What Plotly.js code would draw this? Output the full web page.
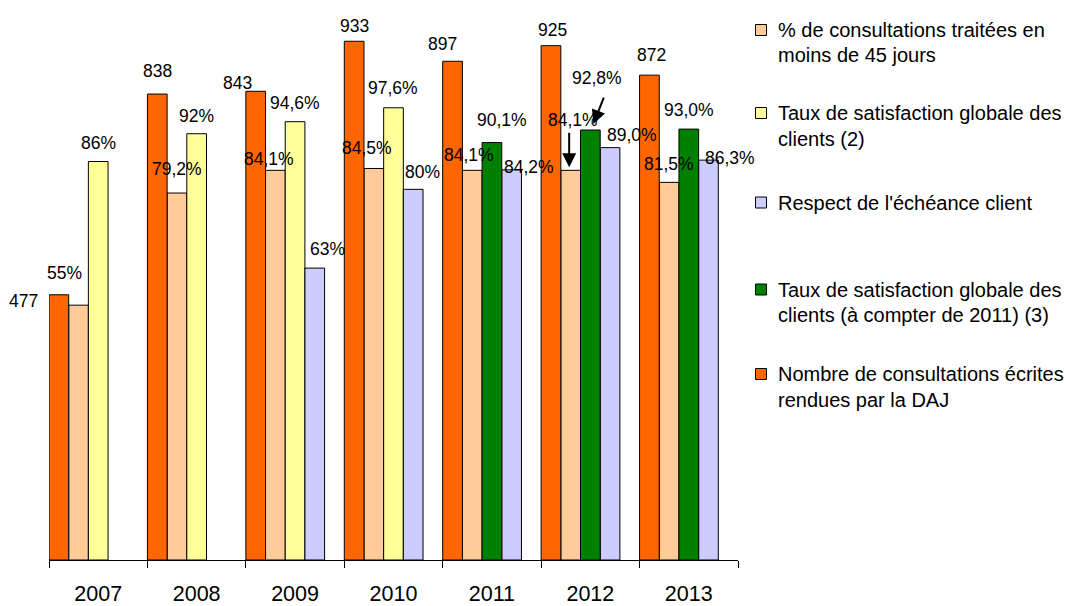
<!DOCTYPE html>
<html>
<head>
<meta charset="utf-8">
<script src="https://cdn.plot.ly/plotly-3.0.1.min.js"></script>
<style>
  html, body { margin: 0; padding: 0; background: #ffffff; }
  #chart { width: 1067px; height: 606px; }
</style>
</head>
<body>
<div id="chart"></div>
<script>
// Years on the category axis
const years = ['2007', '2008', '2009', '2010', '2011', '2012', '2013'];

// Nombre de consultations écrites rendues (right-hand scale, counts)
const nombre = [477, 838, 843, 933, 897, 925, 872];
// % de consultations traitées en moins de 45 jours
const pct45 = [55, 79.2, 84.1, 84.5, 84.1, 84.1, 81.5];
const pct45Dec = [0, 1, 1, 1, 1, 1, 1];
// Taux de satisfaction globale des clients (2)
const satisf2 = [86, 92, 94.6, 97.6, null, null, null];
const satisf2Dec = [0, 0, 1, 1, 0, 0, 0];
// Respect de l'échéance client
const echeance = [null, null, 63, 80, 84.2, 89.0, 86.3];
const echeanceDec = [0, 0, 0, 0, 1, 1, 1];
// Taux de satisfaction globale des clients (à compter de 2011) (3)
const satisf3 = [null, null, null, null, 90.1, 92.8, 93.0];
const satisf3Dec = [0, 0, 0, 0, 1, 1, 1];

const FONT = 'Liberation Sans, Arial, sans-serif';
const BAR_W = 0.2;

// Series description: slot within the year group, axis, colours, legend text
const series = [
  { key: 'pct45', y: pct45, dec: pct45Dec, pct: true, slot: 1, axis: 'y', color: '#FFCC99',
    name: '% de consultations traitées en\nmoins de 45 jours' },
  { key: 'satisf2', y: satisf2, dec: satisf2Dec, pct: true, slot: 2, axis: 'y', color: '#FFFF99',
    name: 'Taux de satisfaction globale des\nclients (2)' },
  { key: 'echeance', y: echeance, dec: echeanceDec, pct: true, slot: 3, axis: 'y', color: '#CCCCFF',
    name: "Respect de l'échéance client" },
  { key: 'satisf3', y: satisf3, dec: satisf3Dec, pct: true, slot: 2, axis: 'y', color: '#008000',
    name: 'Taux de satisfaction globale des\nclients (à compter de 2011) (3)' },
  { key: 'nombre', y: nombre, dec: null, pct: false, slot: 0, axis: 'y2', color: '#FF6600',
    name: 'Nombre de consultations écrites\nrendues par la DAJ' }
];

// Label placement tweaks (pixels): [dx, up] relative to the bar top centre
const labelShift = {
  nombre:   [[-35, -6], [0, 23], [-18, 8], [0, 15], [-10, 17], [2, 16], [2, 20]],
  pct45:    [[-14, 32], [0, 24], [-6, 11], [-7, 20], [-3, 15], [2, 50], [0, 18]],
  satisf2:  [[0, 19], [0, 18], [0, 19], [-1, 20]],
  echeance: [null, null, [13, 19], [9, 17], [17, 3], [22, 13], [22, 2]],
  satisf3:  [null, null, null, null, [10, 23], [7, 52], [0, 19]]
};

function fmt(v, d) {
  return v.toFixed(d).replace('.', ',');
}

const traces = series.map(s => ({
  type: 'bar',
  x: years,
  y: s.y,
  yaxis: s.axis,
  name: s.name.replace('\n', ' '),
  width: BAR_W,
  offset: -0.5 + s.slot * BAR_W,
  marker: { color: s.color, line: { color: '#000000', width: 1 } },
  showlegend: false,
  hoverinfo: 'skip'
}));

const annotations = [];
series.forEach(s => {
  s.y.forEach((v, i) => {
    if (v === null) return;
    const sh = labelShift[s.key][i] || [0, 18];
    annotations.push({
      x: i - 0.5 + (s.slot + 0.5) * BAR_W,
      y: v,
      xref: 'x',
      yref: s.axis,
      text: s.pct ? fmt(v, s.dec[i]) + '%' : String(v),
      showarrow: false,
      xanchor: 'center',
      yanchor: 'middle',
      xshift: sh[0],
      yshift: sh[1],
      font: { family: FONT, size: 17.5, color: '#000000' }
    });
  });
});

// Pointer arrows for the crowded 2012 group
const i2012 = years.indexOf('2012');
annotations.push({
  x: i2012 - 0.5 + 1.5 * BAR_W, y: pct45[i2012], xref: 'x', yref: 'y',
  text: '', showarrow: true, arrowhead: 2, arrowsize: 1.4, arrowwidth: 2,
  arrowcolor: '#000000', ax: 0, ay: -36, xshift: -1.5, yshift: 3, standoff: 0
});
annotations.push({
  x: i2012 - 0.5 + 2.5 * BAR_W, y: satisf3[i2012], xref: 'x', yref: 'y',
  text: '', showarrow: true, arrowhead: 2, arrowsize: 1.4, arrowwidth: 2,
  arrowcolor: '#000000', ax: 11, ay: -28, xshift: 3, yshift: 6, standoff: 0
});

// Legend drawn by hand on the right
const L = 49, R = 738, T = 4, B = 560;
const pxX = px => (px - L) / (R - L);
const pxY = py => (B - py) / (B - T);
const legendY = [30, 113, 202.5, 289.5, 374];
const shapes = [];
series.forEach((s, k) => {
  const cy = legendY[k];
  shapes.push({
    type: 'rect', xref: 'paper', yref: 'paper',
    x0: pxX(755.5), x1: pxX(766.5), y0: pxY(cy + 5.5), y1: pxY(cy - 5.5),
    fillcolor: s.color, line: { color: '#000000', width: 1 }
  });
  s.name.split('\n').forEach((line, j) => {
    annotations.push({
      x: pxX(776), y: pxY(cy + j * 25.5), xref: 'paper', yref: 'paper',
      text: line, showarrow: false, xanchor: 'left', yanchor: 'middle',
      font: { family: FONT, size: 20, color: '#000000' }
    });
  });
});

const layout = {
  width: 1067,
  height: 606,
  margin: { l: L, r: 1067 - R, t: T, b: 606 - B },
  paper_bgcolor: '#ffffff',
  plot_bgcolor: '#ffffff',
  barmode: 'overlay',
  showlegend: false,
  font: { family: FONT, color: '#000000' },
  xaxis: {
    type: 'category',
    range: [-0.5, years.length - 0.5],
    showline: true,
    linecolor: '#000000',
    linewidth: 1,
    ticks: 'outside',
    tickson: 'boundaries',
    ticklen: 7,
    tickcolor: '#000000',
    tickwidth: 1,
    showgrid: false,
    zeroline: false,
    ticklabelstandoff: 14,
    tickfont: { family: FONT, size: 21.5, color: '#000000' },
    fixedrange: true
  },
  yaxis: {
    range: [0, 120],
    visible: false,
    showgrid: false,
    zeroline: false,
    fixedrange: true
  },
  yaxis2: {
    range: [0, 1000],
    overlaying: 'y',
    side: 'right',
    visible: false,
    showgrid: false,
    zeroline: false,
    fixedrange: true
  },
  shapes: shapes,
  annotations: annotations
};

Plotly.newPlot('chart', traces, layout, { staticPlot: true, displayModeBar: false });
</script>
</body>
</html>
